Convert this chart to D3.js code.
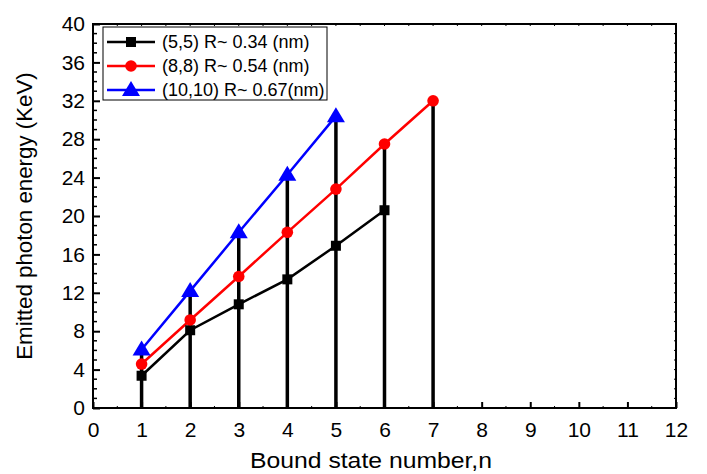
<!DOCTYPE html>
<html>
<head>
<meta charset="utf-8">
<script src="https://cdn.jsdelivr.net/npm/d3@7"></script>
<style>
body{margin:0;background:#fff;}
svg{display:block;font-family:Arial,"Liberation Sans",sans-serif;}
</style>
</head>
<body>
<svg id="chart" width="707" height="474"></svg>
<script>
const nValues = [1, 2, 3, 4, 5, 6, 7];
const xTicks = [0,1,2,3,4,5,6,7,8,9,10,11,12];
const yTicks = [0,4,8,12,16,20,24,28,32,36,40];
const series55 = [3.36, 8.1, 10.8, 13.4, 16.9, 20.6];
const series88 = [4.58, 9.17, 13.7, 18.3, 22.8, 27.5, 32.0];
const series1010 = [6.1, 12.2, 18.3, 24.3, 30.4];
const seriesNames = ["(5,5) R~ 0.34 (nm)", "(8,8) R~ 0.54 (nm)", "(10,10) R~ 0.67(nm)"];
const seriesColors = ["#000000", "#ff0000", "#0000ff"];
const seriesShapes = ["square", "circle", "triangle"];

const svg = d3.select("#chart");
const pL = 93, pR = 676, pT = 24, pB = 408;
const x = d3.scaleLinear().domain([0, 12]).range([pL, pR]);
const y = d3.scaleLinear().domain([0, 40]).range([pB, pT]);

const allSeries = [series55, series88, series1010].map((vals, i) => ({
  name: seriesNames[i], color: seriesColors[i], shape: seriesShapes[i],
  points: vals.map((v, j) => ({n: nValues[j], v}))
}));

// drop lines (stems) from max value at each n
const stems = nValues.map(n => {
  let m = 0;
  allSeries.forEach(s => s.points.forEach(p => { if (p.n === n) m = Math.max(m, p.v); }));
  return {n, v: m};
});
svg.append("g").selectAll("line").data(stems).join("line")
  .attr("x1", d => x(d.n)).attr("x2", d => x(d.n))
  .attr("y1", y(0)).attr("y2", d => y(d.v))
  .attr("stroke", "#000").attr("stroke-width", 3.5);

// frame
svg.append("rect").attr("x", pL).attr("y", pT).attr("width", pR-pL).attr("height", pB-pT)
  .attr("fill", "none").attr("stroke", "#000").attr("stroke-width", 2);

// axes
const xAxis = d3.axisBottom(x).tickValues(xTicks).tickSize(-6).tickPadding(14).tickFormat(d3.format("d"));
const gx = svg.append("g").attr("transform", `translate(0,${pB})`).call(xAxis);
gx.attr("font-family", null).attr("font-size", null);
gx.select(".domain").remove();
gx.selectAll(".tick line").attr("stroke-width", 2);
gx.selectAll("text").attr("font-size", 21).attr("fill", "#000");

const xMinor = d3.range(0.5, 12, 1);
svg.append("g").selectAll("line").data(xMinor).join("line")
  .attr("x1", d => x(d)).attr("x2", d => x(d)).attr("y1", pB).attr("y2", pB-2)
  .attr("stroke", "#000").attr("stroke-width", 1);
svg.append("g").selectAll("line").data(d3.range(0, 12.01, 0.5)).join("line")
  .attr("x1", d => x(d)).attr("x2", d => x(d)).attr("y1", pT).attr("y2", pT+2)
  .attr("stroke", "#000").attr("stroke-width", 1);

const yAxis = d3.axisLeft(y).tickValues(yTicks).tickSize(-7).tickPadding(6).tickFormat(d3.format("d"));
const gy = svg.append("g").attr("transform", `translate(${pL},0)`).call(yAxis);
gy.attr("font-family", null).attr("font-size", null);
gy.select(".domain").remove();
gy.selectAll(".tick line").attr("stroke-width", 2);
gy.selectAll("text").attr("font-size", 21).attr("fill", "#000").attr("dx", "-2");

const yMinor = d3.range(1, 40, 1).filter(v => v % 4 !== 0);
svg.append("g").selectAll("line").data(yMinor).join("line")
  .attr("x1", pL).attr("x2", pL+4).attr("y1", d => y(d)).attr("y2", d => y(d))
  .attr("stroke", "#000").attr("stroke-width", 1.5);
svg.append("g").selectAll("line").data(d3.range(0, 40.01, 1)).join("line")
  .attr("x1", pR).attr("x2", pR-2).attr("y1", d => y(d)).attr("y2", d => y(d))
  .attr("stroke", "#000").attr("stroke-width", 1);

// lines
const line = d3.line().x(d => x(d.n)).y(d => y(d.v));
allSeries.forEach(s => {
  svg.append("path").datum(s.points).attr("d", line).attr("fill", "none")
    .attr("stroke", s.color).attr("stroke-width", 2.5);
});

function drawMarker(g, shape, color, cx, cy) {
  if (shape === "square") {
    g.append("rect").attr("x", cx-5).attr("y", cy-5).attr("width", 10).attr("height", 10).attr("fill", color);
  } else if (shape === "circle") {
    g.append("circle").attr("cx", cx).attr("cy", cy).attr("r", 5.8).attr("fill", color);
  } else {
    g.append("path").attr("d", `M${cx},${cy-9}L${cx+9},${cy+6}L${cx-9},${cy+6}Z`).attr("fill", color);
  }
}
allSeries.forEach(s => {
  const g = svg.append("g");
  s.points.forEach(p => drawMarker(g, s.shape, s.color, x(p.n), y(p.v)));
});

// legend
const lg = svg.append("g");
lg.append("rect").attr("x", 103).attr("y", 27).attr("width", 224).attr("height", 73)
  .attr("fill", "#fff").attr("stroke", "#000").attr("stroke-width", 1);
allSeries.forEach((s, i) => {
  const ly = 42 + i * 24;
  lg.append("line").attr("x1", 107).attr("x2", 155).attr("y1", ly).attr("y2", ly)
    .attr("stroke", s.color).attr("stroke-width", 2.5);
  drawMarker(lg, s.shape, s.color, 131, ly);
  lg.append("text").attr("x", 162).attr("y", ly + 6).attr("font-size", 18).attr("fill", "#000").text(s.name);
});

// axis titles
svg.append("text").attr("x", 371).attr("y", 468).attr("text-anchor", "middle")
  .attr("font-size", 22).attr("fill", "#000")
  .attr("textLength", 242).attr("lengthAdjust", "spacingAndGlyphs")
  .text("Bound state number,n");
svg.append("text").attr("transform", "translate(32,216) rotate(-90)").attr("text-anchor", "middle")
  .attr("font-size", 22.3).attr("fill", "#000").text("Emitted photon energy (KeV)");
</script>
</body>
</html>
